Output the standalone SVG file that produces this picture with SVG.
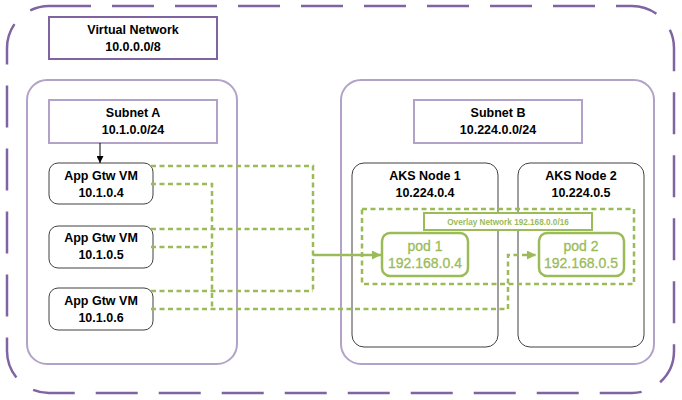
<svg xmlns="http://www.w3.org/2000/svg" width="682" height="400" viewBox="0 0 682 400">
<style>
.t{font-family:"Liberation Sans",Arial,sans-serif;font-weight:bold;font-size:12.5px;fill:#000;text-anchor:middle}
.p{font-family:"Liberation Sans",Arial,sans-serif;font-size:14px;fill:#9BBB59;text-anchor:middle;stroke:#9BBB59;stroke-width:0.3}
.o{font-family:"Liberation Sans",Arial,sans-serif;font-weight:bold;font-size:8.2px;fill:#9BBB59;text-anchor:middle}
.dk{fill:#fff;stroke:#404040;stroke-width:1}
.lp{fill:none;stroke:#B3A2C7;stroke-width:2}
.gd{fill:none;stroke:#9BBB59;stroke-width:2.5;stroke-dasharray:5 3.5}
</style>
<defs>
<marker id="ga" viewBox="0 0 10 10" refX="10" refY="5" markerWidth="10" markerHeight="9" markerUnits="userSpaceOnUse" orient="auto"><path d="M0,0L10,5L0,10z" fill="#9BBB59"/></marker>
<marker id="ka" viewBox="0 0 10 10" refX="10" refY="5" markerWidth="7" markerHeight="7" markerUnits="userSpaceOnUse" orient="auto"><path d="M0,0L10,5L0,10z" fill="#000"/></marker>
</defs>
<rect width="682" height="400" fill="#fff"/>
<g id="vnet">
<rect x="7" y="6" width="667" height="387" rx="42" fill="none" stroke="#8064A2" stroke-width="2.5" stroke-dasharray="42 21"/>
<rect x="49" y="17" width="168" height="42" fill="#fff" stroke="#8064A2" stroke-width="2"/>
<text class="t" x="133" y="34">Virtual Network</text>
<text class="t" x="133" y="51">10.0.0.0/8</text>
</g>
<g id="subnetA">
<rect class="lp" x="27" y="80" width="210" height="284" rx="20"/>
<rect class="lp" x="49" y="100" width="168" height="43"/>
<text class="t" x="133" y="117">Subnet A</text>
<text class="t" x="133" y="134">10.1.0.0/24</text>
</g>
<g id="subnetB">
<rect class="lp" x="341" y="80" width="313" height="284" rx="20"/>
<rect class="lp" x="414" y="100" width="168" height="43"/>
<text class="t" x="498" y="117">Subnet B</text>
<text class="t" x="498" y="134">10.224.0.0/24</text>
</g>
<g id="vm1">
<rect class="dk" x="49" y="163" width="104" height="41" rx="9"/>
<text class="t" x="101" y="180">App Gtw VM</text>
<text class="t" x="101" y="197">10.1.0.4</text>
</g>
<g id="vm2">
<rect class="dk" x="49" y="226" width="104" height="42" rx="9"/>
<text class="t" x="101" y="242">App Gtw VM</text>
<text class="t" x="101" y="259">10.1.0.5</text>
</g>
<g id="vm3">
<rect class="dk" x="49" y="288" width="104" height="42" rx="9"/>
<text class="t" x="101" y="305">App Gtw VM</text>
<text class="t" x="101" y="322">10.1.0.6</text>
</g>
<g id="aks1">
<rect class="dk" x="352" y="163" width="146" height="184" rx="12"/>
<text class="t" x="425" y="180">AKS Node 1</text>
<text class="t" x="425" y="197">10.224.0.4</text>
</g>
<g id="aks2">
<rect class="dk" x="518" y="163" width="126" height="184" rx="12"/>
<text class="t" x="581" y="180">AKS Node 2</text>
<text class="t" x="581" y="197">10.224.0.5</text>
</g>
<g id="overlay">
<rect x="362" y="209" width="272" height="75" fill="#fff" class="gd"/>
<rect x="424" y="213" width="168" height="17" fill="#fff" stroke="#9BBB59" stroke-width="2"/>
<text class="o" x="508" y="224.8">Overlay Network 192.168.0.0/16</text>
</g>
<g id="pod1">
<rect x="382" y="233" width="86" height="43" rx="8" fill="#fff" stroke="#9BBB59" stroke-width="2.5"/>
<text class="p" x="425" y="251">pod 1</text>
<text class="p" x="425" y="268">192.168.0.4</text>
</g>
<g id="pod2">
<rect x="539" y="233" width="85" height="43" rx="8" fill="#fff" stroke="#9BBB59" stroke-width="2.5"/>
<text class="p" x="581" y="251">pod 2</text>
<text class="p" x="581" y="268">192.168.0.5</text>
</g>
<g id="connectors">
<line x1="100" y1="143" x2="100" y2="163" stroke="#000" stroke-width="1" marker-end="url(#ka)"/>
<path class="gd" d="M151,166H313V291M151,229H313M151,291H313"/>
<path class="gd" d="M151,184H212V309M151,247H212"/>
<path class="gd" d="M151,309H508V255H536" marker-end="url(#ga)"/>
<path d="M313,255H381" fill="none" stroke="#9BBB59" stroke-width="2.5" marker-end="url(#ga)"/>
</g>
</svg>
